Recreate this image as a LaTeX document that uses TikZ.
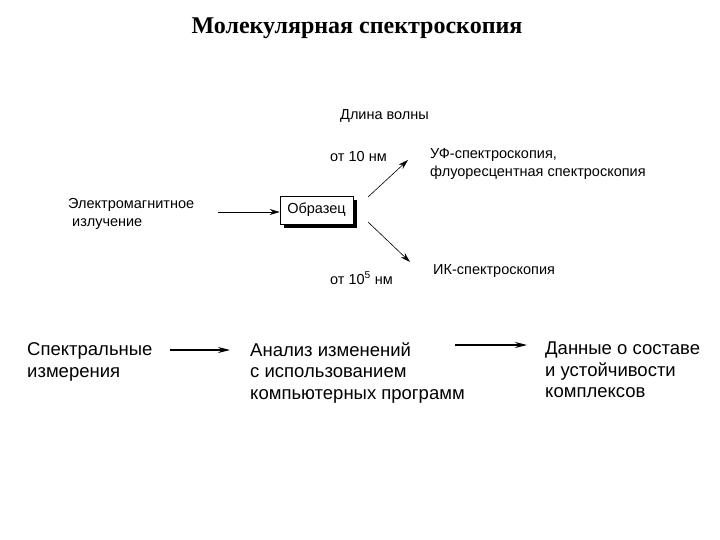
\documentclass[tikz,border=0pt]{standalone}
\usepackage{fontspec}
\setmainfont{Liberation Serif}
\newfontfamily\arialf{Liberation Sans}
\usetikzlibrary{arrows.meta}
\begin{document}
\begin{tikzpicture}[x=1pt,y=-1pt,
  small/.style={font=\arialf\fontsize{14.5}{18}\selectfont, inner sep=0pt, anchor=west, align=left},
  big/.style={font=\arialf\fontsize{18.5}{21.5}\selectfont, inner sep=0pt, anchor=west, align=left},
  thinarrow/.style={-{Stealth[length=10pt,width=6pt]}, line width=0.6pt},
  thickarrow/.style={-{Stealth[length=12pt,width=6pt]}, line width=1.2pt}]
\useasboundingbox (0,0) rectangle (720,540);
\node[font=\bfseries\fontsize{24}{28}\selectfont, inner sep=0pt] (title) at (357,28) {Молекулярная спектроскопия};
\node[small] (wl) at (340,116) {Длина волны};
\node[small] (from10) at (330,157) {от 10 нм};
\node[small] (uv) at (430,164) {УФ-спектроскопия,\\флуоресцентная спектроскопия};
\node[small] (em) at (68,214) {Электромагнитное\\\ излучение};
% sample box with shadow
\fill (284,200) rectangle (357,228);
\node[draw, fill=white, line width=0.6pt, minimum width=73pt, minimum height=28pt, inner sep=0pt, font=\arialf\fontsize{14.5}{16}\selectfont] (sample) at (316.5,210) {Образец};
\node[small] (from105) at (330,278) {от 10\textsuperscript{5} нм};
\node[small] (ir) at (433,271) {ИК-спектроскопия};
\coordinate (emr) at (218,212);
\coordinate (up0) at (368,197);
\coordinate (up1) at (408,160);
\coordinate (dn0) at (368,222);
\coordinate (dn1) at (410,262);
\draw[thinarrow] (emr) -- (emr -| sample.west);
\draw[thinarrow] (up0) -- (up1);
\draw[thinarrow] (dn0) -- (dn1);
\node[big] (spec) at (27,362) {Спектральные\\измерения};
\node[big] (anal) at (250,373) {Анализ изменений\\с использованием\\компьютерных программ};
\node[big] (data) at (545,370) {Данные о составе\\и устойчивости\\комплексов};
\coordinate (a1) at (170,350);
\coordinate (a2) at (230,350);
\coordinate (b1) at (455,345);
\coordinate (b2) at (527,345);
\draw[thickarrow] (a1) -- (a2);
\draw[thickarrow] (b1) -- (b2);
\end{tikzpicture}
\end{document}
